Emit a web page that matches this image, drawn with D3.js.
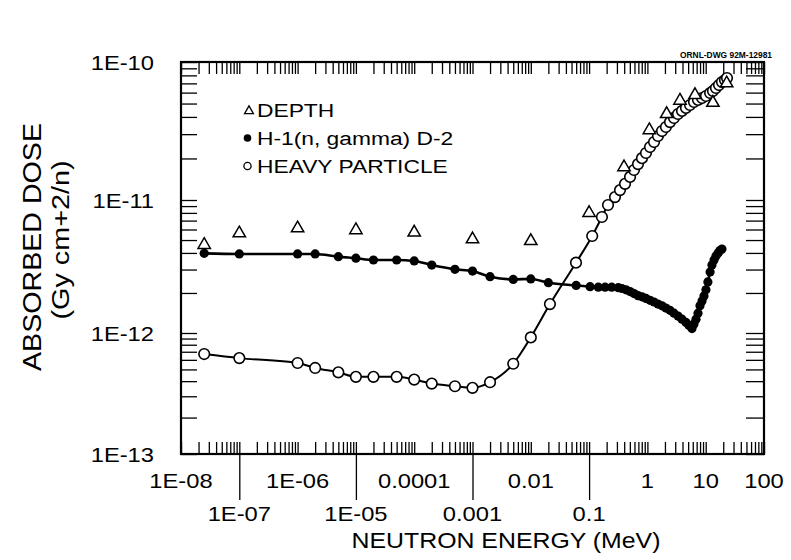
<!DOCTYPE html>
<html><head><meta charset="utf-8">
<script src="https://cdn.jsdelivr.net/npm/d3@7"></script>
<style>body{margin:0;background:#fff} text{font-family:"Liberation Sans",Arial,Helvetica,sans-serif;fill:#000}</style>
</head><body>
<svg id="c" width="791" height="560"></svg>
<script>
// ---- data ----
const depthE    = [2.5e-8, 1e-7, 1e-6, 1e-5, 1e-4, 1e-3, 0.01, 0.1, 0.397, 1.08, 2.14, 3.62, 6.55, 13.3, 22.9];
const depthDose = [4.6e-12, 5.62e-12, 6.13e-12, 5.94e-12, 5.7e-12, 5.07e-12, 4.92e-12, 8.0e-12, 1.73e-11, 3.21e-11, 4.20e-11, 5.25e-11, 5.77e-11, 5.07e-11, 7.01e-11];

const captureE = [2.5e-8, 1e-7, 1e-6, 2e-6, 5e-6, 1e-5, 2e-5, 5e-5, 1e-4, 2e-4, 5e-4, 1e-3, 2e-3, 5e-3, 0.01, 0.02, 0.06,
  0.104, 0.144, 0.188, 0.244, 0.317, 0.366, 0.430, 0.504, 0.589, 0.690, 0.807, 0.946, 1.11, 1.30, 1.52, 1.78, 2.08, 2.44,
  2.86, 3.35, 3.92, 4.59, 5.18, 5.82, 6.30, 6.82, 7.38, 7.98, 8.65, 9.35, 10.1, 10.9, 11.9, 12.8, 13.9, 15.0, 16.3, 17.6, 19.0];
const captureDose = [3.97e-12, 3.93e-12, 3.93e-12, 3.93e-12, 3.75e-12, 3.65e-12, 3.54e-12, 3.54e-12, 3.48e-12, 3.24e-12, 3.01e-12, 2.92e-12, 2.65e-12, 2.53e-12, 2.55e-12, 2.39e-12, 2.28e-12,
  2.23e-12, 2.21e-12, 2.21e-12, 2.21e-12, 2.19e-12, 2.16e-12, 2.11e-12, 2.05e-12, 1.98e-12, 1.91e-12, 1.87e-12, 1.82e-12, 1.76e-12, 1.71e-12, 1.65e-12, 1.60e-12, 1.54e-12, 1.48e-12,
  1.41e-12, 1.34e-12, 1.27e-12, 1.20e-12, 1.14e-12, 1.08e-12, 1.17e-12, 1.27e-12, 1.41e-12, 1.60e-12, 1.74e-12, 1.90e-12, 2.11e-12, 2.42e-12, 2.88e-12, 3.24e-12, 3.54e-12, 3.79e-12, 4.00e-12, 4.17e-12, 4.28e-12];

const heavyE = [2.5e-8, 1e-7, 1e-6, 2e-6, 5e-6, 1e-5, 2e-5, 5e-5, 1e-4, 2e-4, 5e-4, 1e-3, 2e-3, 5e-3, 0.01, 0.0213, 0.0596, 0.113,
  0.166, 0.211, 0.278, 0.339, 0.413, 0.504, 0.589, 0.690, 0.807, 0.946, 1.11, 1.30, 1.52, 1.78, 2.08, 2.44, 2.86, 3.35, 3.92,
  4.59, 5.38, 6.30, 7.38, 8.65, 10.1, 11.9, 13.3, 15.0, 16.9, 19.0, 21.4, 23.2];
const heavyDose = [6.7e-13, 6.2e-13, 5.65e-13, 5.14e-13, 4.73e-13, 4.34e-13, 4.34e-13, 4.34e-13, 4.12e-13, 3.82e-13, 3.63e-13, 3.52e-13, 3.92e-13, 5.57e-13, 9.2e-13, 1.65e-12, 3.38e-12, 5.36e-12,
  7.45e-12, 9.17e-12, 1.05e-11, 1.18e-11, 1.31e-11, 1.47e-11, 1.65e-11, 1.82e-11, 2.01e-11, 2.19e-11, 2.42e-11, 2.63e-11, 2.91e-11, 3.16e-11, 3.38e-11, 3.67e-11, 3.93e-11, 4.20e-11, 4.42e-11,
  4.65e-11, 4.88e-11, 5.13e-11, 5.31e-11, 5.48e-11, 5.67e-11, 5.96e-11, 6.16e-11, 6.48e-11, 6.81e-11, 7.16e-11, 7.41e-11, 7.66e-11];

const xLabelRow1 = ["1E-08", "1E-06", "0.0001", "0.01", "1", "10", "100"];
const xLabelRow1Val = [1e-8, 1e-6, 1e-4, 1e-2, 1, 10, 100];
const xLabelRow2 = ["1E-07", "1E-05", "0.001", "0.1"];
const xLabelRow2Val = [1e-7, 1e-5, 1e-3, 1e-1];
const yLabels = ["1E-13", "1E-12", "1E-11", "1E-10"];
const yLabelVal = [1e-13, 1e-12, 1e-11, 1e-10];
const legendNames = ["DEPTH", "H-1(n, gamma) D-2", "HEAVY PARTICLE"];

// ---- layout ----
const L = 181, R = 764, T = 62, B = 454;
const svg = d3.select("#c");
const x = d3.scaleLog().domain([1e-8, 100]).range([L, R]);
const y = d3.scaleLog().domain([1e-13, 1e-12, 1e-11, 1e-10]).range([B, 333, 200, T]);

function txt(g, s, px, py, size, sx, anchor, rot) {
  const t = g.append("g").attr("transform", `translate(${px},${py})` + (rot ? ` rotate(${rot})` : "") + ` scale(${sx},1)`);
  t.append("text").attr("font-size", size).attr("text-anchor", anchor || "start").text(s);
  return t;
}

// ticks
const xt = x.ticks(20), yt = y.ticks();
function styleAxis(g){ g.select(".domain").remove(); g.selectAll("line").attr("stroke","#000").attr("stroke-width",1.3); g.selectAll("text").remove(); }
svg.append("g").attr("transform",`translate(0,${B})`).call(d3.axisBottom(x).tickValues(xt).tickSize(-12).tickFormat("")).call(styleAxis);
svg.append("g").attr("transform",`translate(0,${T})`).call(d3.axisTop(x).tickValues(xt).tickSize(-12).tickFormat("")).call(styleAxis);
svg.append("g").attr("transform",`translate(${L},0)`).call(d3.axisLeft(y).tickValues(yt).tickSize(-16).tickFormat("")).call(styleAxis);
svg.append("g").attr("transform",`translate(${R},0)`).call(d3.axisRight(y).tickValues(yt).tickSize(-18).tickFormat("")).call(styleAxis);
svg.append("g").attr("transform",`translate(0,${B})`).call(d3.axisBottom(x).tickValues(xLabelRow2Val).tickSize(46).tickFormat("")).call(styleAxis);

// frame
svg.append("rect").attr("x",L).attr("y",T).attr("width",R-L).attr("height",B-T).attr("fill","none").attr("stroke","#000").attr("stroke-width",2.2);

// tick labels
const lab = svg.append("g");
xLabelRow1.forEach((s,i)=>txt(lab, s, x(xLabelRow1Val[i]), 488, 21, 1.13, "middle"));
xLabelRow2.forEach((s,i)=>txt(lab, s, x(xLabelRow2Val[i]), 521, 21, 1.13, "middle"));
yLabels.forEach((s,i)=>txt(lab, s, 154, y(yLabelVal[i]) + 7.5, 21, 1.13, "end"));

// titles
txt(svg, "NEUTRON ENERGY (MeV)", 506, 548, 22, 1.13, "middle");
txt(svg, "ABSORBED DOSE", 40.5, 247, 26, 1.1, "middle", -90);
txt(svg, "(Gy cm+2/n)", 69, 240, 24, 1.2, "middle", -90);
svg.append("text").attr("x",680).attr("y",58).attr("font-size",9.5).attr("font-weight","bold")
  .attr("textLength",92).attr("lengthAdjust","spacingAndGlyphs").text("ORNL-DWG 92M-12981");

// data
const heavy = heavyE.map((e,i)=>({e, d: heavyDose[i]}));
const capture = captureE.map((e,i)=>({e, d: captureDose[i]}));
const depth = depthE.map((e,i)=>({e, d: depthDose[i]}));
const line = d3.line().x(p=>x(p.e)).y(p=>y(p.d)).curve(d3.curveMonotoneX);

svg.append("path").datum(heavy).attr("d", line).attr("fill","none").attr("stroke","#000").attr("stroke-width",2);
svg.append("path").datum(capture).attr("d", line).attr("fill","none").attr("stroke","#000").attr("stroke-width",2.6);

svg.append("g").selectAll("circle").data(capture).join("circle")
  .attr("cx",p=>x(p.e)).attr("cy",p=>y(p.d)).attr("r",4.6).attr("fill","#000");
svg.append("g").selectAll("circle").data(heavy).join("circle")
  .attr("cx",p=>x(p.e)).attr("cy",p=>y(p.d)).attr("r",5.3).attr("fill","#fff").attr("stroke","#000").attr("stroke-width",1.6);
const tri = d3.symbol().type(d3.symbolTriangle).size(66);
svg.append("g").selectAll("path").data(depth).join("path")
  .attr("transform",p=>`translate(${x(p.e)},${y(p.d)})`).attr("d",tri)
  .attr("fill","#fff").attr("stroke","#000").attr("stroke-width",1.5);

// legend
const lg = svg.append("g");
lg.append("path").attr("transform","translate(249,111)").attr("d", d3.symbol().type(d3.symbolTriangle).size(34)).attr("fill","#fff").attr("stroke","#000").attr("stroke-width",1.3);
lg.append("circle").attr("cx",247.5).attr("cy",138).attr("r",3.8).attr("fill","#000");
lg.append("circle").attr("cx",247.5).attr("cy",166).attr("r",3.6).attr("fill","#fff").attr("stroke","#000").attr("stroke-width",1.3);
legendNames.forEach((s,i)=>txt(lg, s, 257, 117 + i*28, 19, 1.2, "start"));
</script>
</body></html>
